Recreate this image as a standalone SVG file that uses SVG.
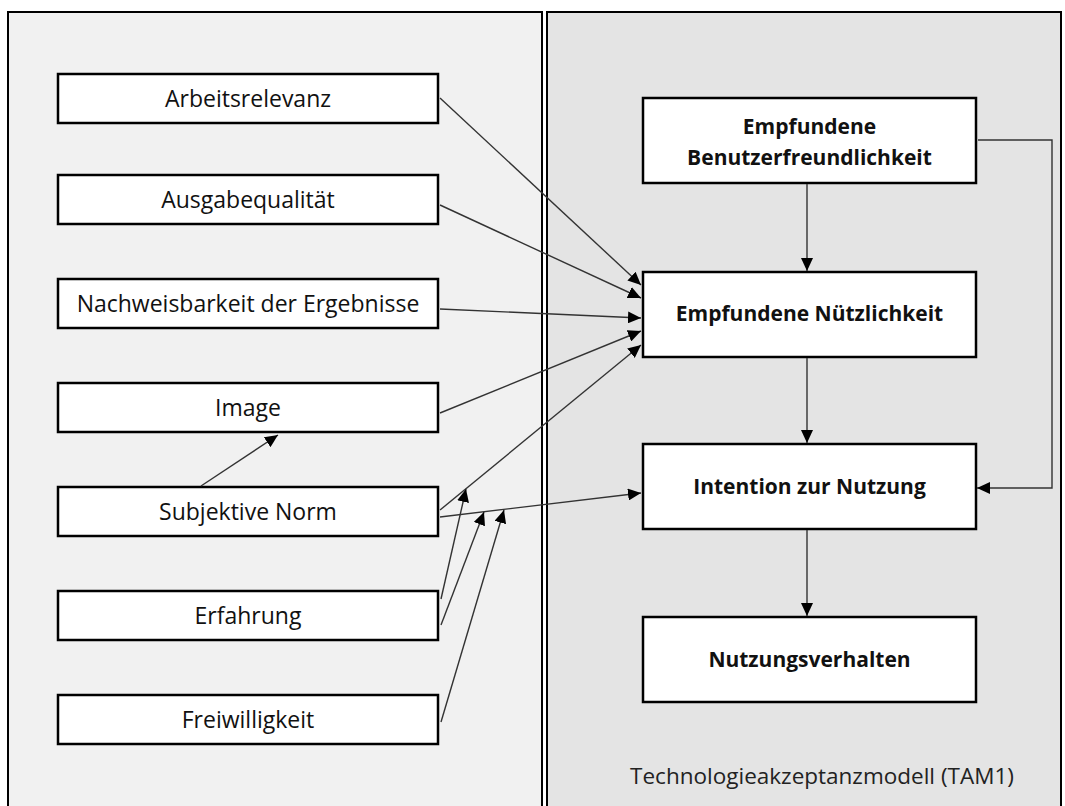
<svg xmlns="http://www.w3.org/2000/svg" width="1065" height="806" viewBox="0 0 1065 806">
<defs>
<marker id="ah" markerUnits="userSpaceOnUse" markerWidth="14" markerHeight="12" refX="13" refY="6" orient="auto">
<path d="M0,0 L13,6 L0,12 z" fill="#000"/>
</marker>
</defs>
<style>
.box{fill:#fff;stroke:#000;stroke-width:2.5}
.lt{font-family:"Open Sans","Liberation Sans",sans-serif;font-size:23px;fill:#111;text-anchor:middle}
.bt{font-family:"Open Sans","Liberation Sans",sans-serif;font-size:21px;font-weight:bold;fill:#111;text-anchor:middle}
.con{fill:none;stroke:#333;stroke-width:1.4;marker-end:url(#ah)}
</style>
<rect x="0" y="0" width="1065" height="806" fill="#fff"/>
<g id="panel-left">
<rect x="8" y="12" width="534" height="800" fill="#f1f1f1" stroke="#000" stroke-width="2"/>
</g>
<g id="panel-right">
<rect x="547" y="12" width="514" height="800" fill="#e4e4e4" stroke="#000" stroke-width="2"/>
<text x="822" y="784" style="font-family:'Open Sans','Liberation Sans',sans-serif;font-size:22.5px;fill:#222;text-anchor:middle">Technologieakzeptanzmodell (TAM1)</text>
</g>
<g id="n-arbeitsrelevanz"><rect class="box" x="58" y="74" width="380" height="49"/><text class="lt" x="248" y="107">Arbeitsrelevanz</text></g>
<g id="n-ausgabequalitaet"><rect class="box" x="58" y="175" width="380" height="49"/><text class="lt" x="248" y="208">Ausgabequalität</text></g>
<g id="n-nachweisbarkeit"><rect class="box" x="58" y="279" width="380" height="49"/><text class="lt" x="248" y="312">Nachweisbarkeit der Ergebnisse</text></g>
<g id="n-image"><rect class="box" x="58" y="383" width="380" height="49"/><text class="lt" x="248" y="416">Image</text></g>
<g id="n-subjektive-norm"><rect class="box" x="58" y="487" width="380" height="49"/><text class="lt" x="248" y="520">Subjektive Norm</text></g>
<g id="n-erfahrung"><rect class="box" x="58" y="591" width="380" height="49"/><text class="lt" x="248" y="624">Erfahrung</text></g>
<g id="n-freiwilligkeit"><rect class="box" x="58" y="695" width="380" height="49"/><text class="lt" x="248" y="728">Freiwilligkeit</text></g>
<g id="n-benutzerfreundlichkeit"><rect class="box" x="643" y="98" width="333" height="85"/><text class="bt" x="809.5" y="134">Empfundene</text><text class="bt" x="809.5" y="165">Benutzerfreundlichkeit</text></g>
<g id="n-nuetzlichkeit"><rect class="box" x="643" y="272" width="333" height="85"/><text class="bt" x="809.5" y="321">Empfundene Nützlichkeit</text></g>
<g id="n-intention"><rect class="box" x="643" y="444" width="333" height="85"/><text class="bt" x="809.5" y="494">Intention zur Nutzung</text></g>
<g id="n-nutzungsverhalten"><rect class="box" x="643" y="617" width="333" height="85"/><text class="bt" x="809.5" y="667">Nutzungsverhalten</text></g>
<g id="connectors">
<line class="con" x1="440" y1="98" x2="641" y2="285"/>
<line class="con" x1="440" y1="205" x2="641" y2="298"/>
<line class="con" x1="440" y1="309" x2="641" y2="318"/>
<line class="con" x1="440" y1="413" x2="641" y2="331"/>
<line class="con" x1="440" y1="510" x2="641" y2="345"/>
<line class="con" x1="440" y1="517" x2="641" y2="493"/>
<line class="con" x1="201" y1="486" x2="278" y2="435"/>
<line class="con" x1="441" y1="599" x2="466" y2="489"/>
<line class="con" x1="441" y1="625" x2="484" y2="512"/>
<line class="con" x1="441" y1="722" x2="504" y2="510"/>
<line class="con" x1="807" y1="184" x2="807" y2="271"/>
<line class="con" x1="807" y1="358" x2="807" y2="443"/>
<line class="con" x1="807" y1="530" x2="807" y2="616"/>
<polyline class="con" points="978,140 1052,140 1052,488 977,488"/>
</g>
</svg>
